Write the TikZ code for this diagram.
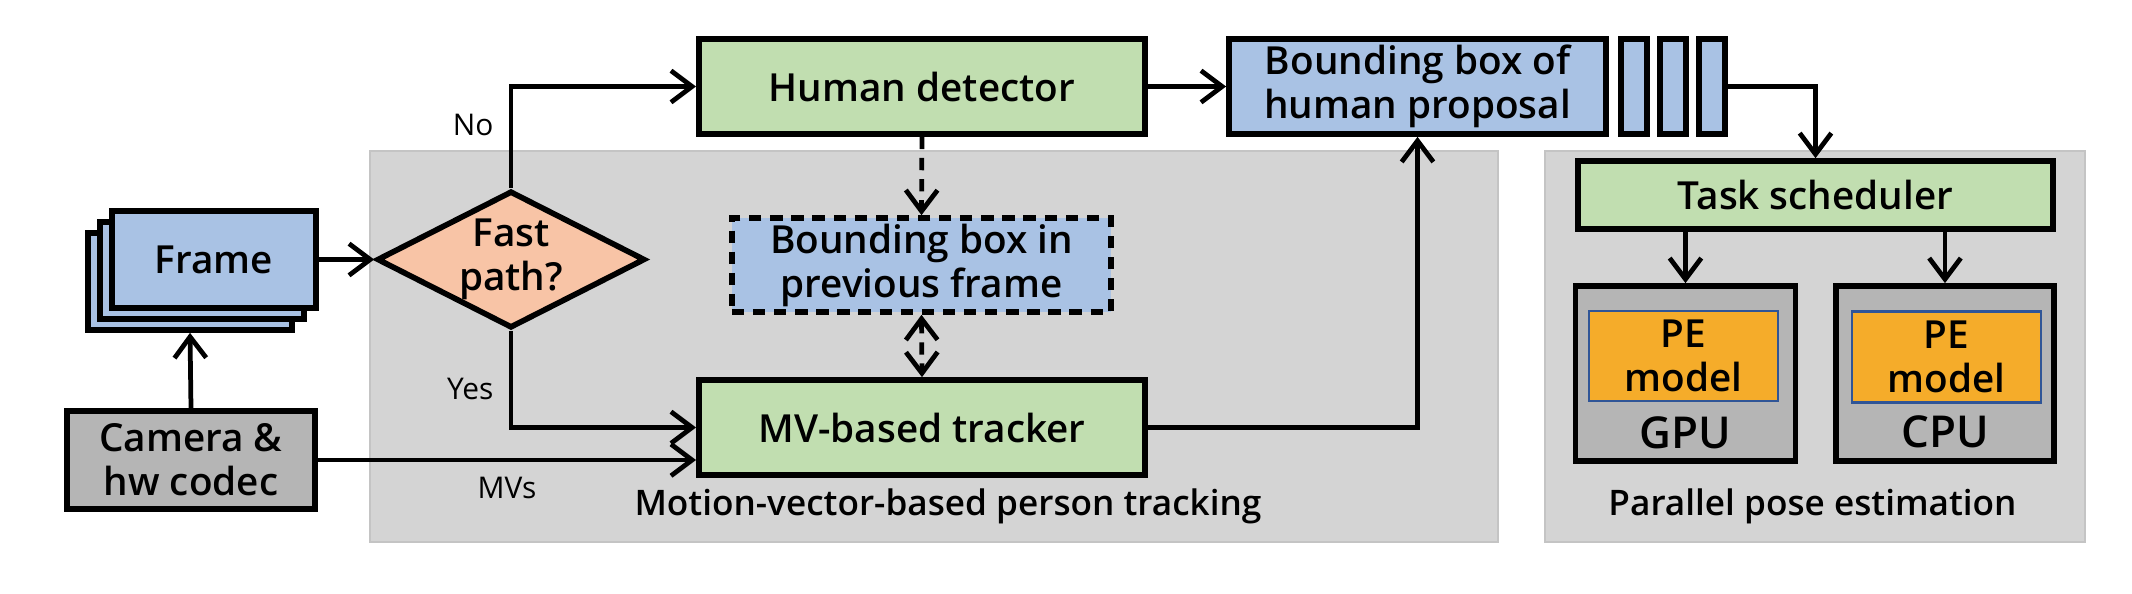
\documentclass[tikz,border=0pt]{standalone}
\usepackage{fontspec}
\setmainfont{Open Sans}[BoldFont={Open Sans Semibold}]
\usepackage{tikz}
\usetikzlibrary{calc}
\usetikzlibrary{arrows.meta}
\usetikzlibrary{shapes.geometric}
\definecolor{boxblue}{RGB}{169,194,228}
\definecolor{boxgreen}{RGB}{193,222,176}
\definecolor{boxpeach}{RGB}{248,196,166}
\definecolor{boxgray}{RGB}{181,181,181}
\definecolor{boxorange}{RGB}{245,172,42}
\definecolor{pmborder}{RGB}{47,85,151}
\definecolor{panelgray}{RGB}{212,212,212}
\definecolor{panelline}{RGB}{196,196,196}
\tikzset{%
  myedge/.style={->, line width=1.35pt, >={Straight Barb[length=6pt,width=9pt]}},
  mydash/.style={myedge, dash pattern=on 3.5pt off 2.5pt},
  mybox/.style={rectangle, draw=black, line width=1.6pt, inner sep=0pt, align=center,
    font=\fontsize{11}{12.5}\selectfont\bfseries},
  bluebox/.style={mybox, fill=boxblue},
  greenbox/.style={mybox, fill=boxgreen},
  graybox/.style={mybox, fill=boxgray},
  pmbox/.style={mybox, fill=boxorange, draw=pmborder, line width=0.6pt},
  mypanel/.style={draw=panelline, line width=0.6pt, fill=panelgray},
  mylabel/.style={font=\fontsize{8.5}{10}\selectfont},
  mycaption/.style={font=\fontsize{10}{12}\selectfont\bfseries}
}
\begin{document}
\begin{tikzpicture}[x=0.01cm, y=-0.01cm]
  \tikzset{myedge/.style={->, line width=1.35pt, >={Straight Barb[length=6pt,width=9pt]}}};

\useasboundingbox (0,0) rectangle (2132,594);

% panels
\draw [mypanel] (370,151) rectangle (1498,542);
\draw [mypanel] (1545,151) rectangle (2085,542);

\node [mycaption, anchor=base] (cap1) at (948,515) {Motion-vector-based person tracking};
\node [mycaption, anchor=base] (cap2) at (1812.5,515) {Parallel pose estimation};

% frames
\foreach \k in {2,1} {
  \node (frame\k) [bluebox, minimum width=2.04cm, minimum height=0.97cm] at (214-12*\k, 259.5+11*\k) {};
}
\node (frame) [bluebox, minimum width=2.04cm, minimum height=0.97cm] at (214,259.5) {Frame};
\node (camera) [graybox, minimum width=2.48cm, minimum height=0.98cm] at (191,460) {Camera \&\\hw codec};

\node (fast) [mybox, diamond, aspect=2, fill=boxpeach, minimum width=2.68cm, minimum height=1.37cm] at (511,259.5) {Fast\\path?};

\node (detector) [greenbox, minimum width=4.46cm, minimum height=0.95cm] at (922,86.5) {Human detector};
\node (prevbox) [bluebox, dash pattern=on 3.5pt off 2.5pt, minimum width=3.79cm, minimum height=0.94cm] at (921.5,265) {Bounding box in\\previous frame};
\node (tracker) [greenbox, minimum width=4.46cm, minimum height=0.95cm] at (922,427.5) {MV-based tracker};

\node (proposal) [bluebox, minimum width=3.77cm, minimum height=0.95cm] at (1417.5,86.5) {Bounding box of\\human proposal};
\foreach \k in {1,2,3} {
  \node (bar\k) [bluebox, minimum width=0.26cm, minimum height=0.95cm] at (1634+39*\k-39, 86.5) {};
}

\node (scheduler) [greenbox, minimum width=4.75cm, minimum height=0.68cm] at (1815.5,195) {Task scheduler};
\node (gpu) [graybox, minimum width=2.2cm, minimum height=1.75cm] at (1685.5,373.5) {};
\node (cpu) [graybox, minimum width=2.18cm, minimum height=1.75cm] at (1945,373.5) {};
\node (pegpu) [pmbox, minimum width=1.89cm, minimum height=0.9cm] at (1683.5,356) {PE\\model};
\node (pecpu) [pmbox, minimum width=1.89cm, minimum height=0.91cm] at (1946.5,357) {PE\\model};
\node (gpulabel) [font=\fontsize{12.5}{14}\selectfont\bfseries] at (1685.5,433) {GPU};
\node (cpulabel) [font=\fontsize{12.5}{14}\selectfont\bfseries] at (1945,432) {CPU};

% arrows
\draw [myedge] (camera.north) -- (frame2.south);
\draw [myedge] (frame.east) -- (fast.west);
\draw [myedge] (fast.north) |- node [mylabel, pos=0.31, left=1pt] {No} (detector.west);
\draw [myedge] (fast.south) |- node [mylabel, pos=0.3, left=1pt] {Yes} (tracker.west);
\draw [myedge] (camera.east) -- node [mylabel, below=1pt] {MVs} (camera.east -| tracker.west);
\draw [mydash] (detector.south) -- (prevbox.north);
\draw [mydash, <->] (prevbox.south) -- (tracker.north);
\draw [myedge] (detector.east) -- (proposal.west);
\draw [myedge] (tracker.east) -| (proposal.south);
\draw [myedge] (bar3.east) -| (scheduler.north);
\draw [myedge] (gpu.north |- scheduler.south) -- (gpu.north);
\draw [myedge] (cpu.north |- scheduler.south) -- (cpu.north);
\end{tikzpicture}
\end{document}
